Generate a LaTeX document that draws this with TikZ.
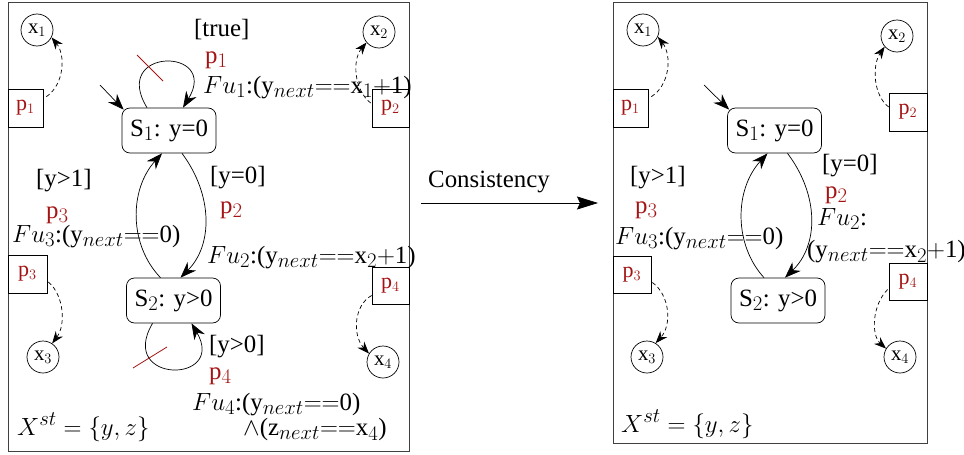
\documentclass[tikz,border=0pt]{standalone}
\usepackage{fontspec}
\setmainfont{Liberation Serif}
\usetikzlibrary{arrows.meta}
\definecolor{pred}{RGB}{165,20,20}
\newcommand{\myeq}{${=}{=}$}
\newcommand{\myplus}{${+}$}
\begin{document}
\begin{tikzpicture}[x=1pt,y=-1pt,font=\Huge,
  stateb/.style={draw,rounded corners=8pt,minimum width=94pt,minimum height=45pt,inner sep=0pt,line width=0.7pt},
  varc/.style={draw,circle,minimum size=32pt,inner sep=0pt,font=\huge,line width=0.7pt},
  pbox/.style={draw,minimum width=37pt,minimum height=38pt,inner sep=0pt,text=pred,font=\fontsize{22}{24}\selectfont,line width=0.7pt},
  lbl/.style={anchor=base west,inner sep=0pt},
  rlbl/.style={anchor=base west,inner sep=0pt,text=pred},
  edgea/.style={-{Stealth[length=16pt,width=12pt]},line width=0.7pt},
  dasharr/.style={dash pattern=on 4pt off 3pt,-{Stealth[length=12pt,width=9pt]},line width=0.7pt},
  frame/.style={draw=black!75,line width=0.8pt},
  slash/.style={draw=pred,line width=0.8pt}]
\useasboundingbox (0,0) rectangle (964,455);

% ---------- left frame ----------
\draw[frame] (8,2) rectangle (409,451);

\node[stateb] (S1) at (169,130.5) {S$_1$: y=0};
\node[stateb] (S2) at (173.5,300.5) {S$_2$: y>0};

\node[varc] (x1) at (37,30) {x$_1$};
\node[varc] (x2) at (379,32) {x$_2$};
\node[varc] (x3) at (43,357) {x$_3$};
\node[varc] (x4) at (383,362) {x$_4$};

\node[pbox,minimum width=35pt] (bp1) at (25.5,108) {p$_1$};
\node[pbox] (bp2) at (390.5,108) {p$_2$};
\node[pbox,minimum width=39pt] (bp3) at (27.5,274) {p$_3$};
\node[pbox,minimum height=37pt] (bp4) at (390.5,285.5) {p$_4$};

\coordinate (i1) at (100,85);
\draw[edgea] (i1) -- ([shift={(2,2)}]S1.north west);

% self loops
\draw[edgea] ([shift={(-22,0)}]S1.north) .. controls (110,47) and (220,47) .. ([shift={(14,0)}]S1.north);
\draw[slash] (137,55) -- (163,81);
\draw[edgea] ([shift={(-21,0)}]S2.south) .. controls (117,384) and (227,384) .. ([shift={(18,0)}]S2.south);
\draw[slash] (133,368) -- (167,347);

% transitions
\draw[edgea] ([shift={(13,0)}]S1.south) .. controls (213,195) and (213,245) .. ([shift={(7,0)}]S2.north);
\draw[edgea] ([shift={(-13,0)}]S2.north) .. controls (129,245) and (129,190) .. ([shift={(-7,0)}]S1.south);

% dashed
\draw[dasharr] ([shift={(3,8)}]bp1.north east) .. controls (64,85) and (66,55) .. (x1.-27);
\draw[dasharr] ([shift={(-1,-5)}]bp2.west) .. controls (354,90) and (352,60) .. (x2.-140);
\draw[dasharr] ([shift={(1,8)}]bp3.east) .. controls (64,295) and (66,325) .. (x3.56);
\draw[dasharr] ([shift={(0,10)}]bp4.west) .. controls (354,305) and (352,335) .. (x4.149);

% labels
\node[lbl] (ltrue) at (194,36) {[true]};
\node[rlbl] (lp1) at (205,63) {p$_1$};
\node[lbl] (lfu1) at (203,93) {$Fu_1$:(y$_{next}$\myeq x$_1$\myplus 1)};
\node[lbl] (ly0) at (210,183.5) {[y=0]};
\node[rlbl] (lp2) at (220,213) {p$_2$};
\node[lbl] (lfu2) at (207,263) {$Fu_2$:(y$_{next}$\myeq x$_2$\myplus 1)};
\node[lbl] (ly1) at (36,186.5) {[y>1]};
\node[rlbl] (lp3) at (46,218) {p$_3$};
\node[lbl] (lfu3) at (12,242) {$Fu_3$:(y$_{next}$\myeq 0)};
\node[lbl] (lyg0) at (209,352.5) {[y>0]};
\node[rlbl] (lp4) at (209,379) {p$_4$};
\node[lbl] (lfu4) at (192,410) {$Fu_4$:(y$_{next}$\myeq 0)};
\node[lbl] (lfu4b) at (243,435.5) {$\wedge$(z$_{next}$\myeq x$_4$)};
\node[lbl] (lxst) at (17,435) {$X^{st}=\{y,z\}$};

% ---------- consistency arrow ----------
\node[lbl] (cons) at (428,187) {Consistency};
\coordinate (ca) at (421,203);
\coordinate (cb) at (598,203);
\draw[-{Stealth[length=21pt,width=13pt,inset=3pt]},line width=0.7pt] (ca) -- (cb);

% ---------- right frame ----------
\draw[frame] (613,2) rectangle (927,443);

\node[stateb] (S1r) at (774.5,130.5) {S$_1$: y=0};
\node[stateb] (S2r) at (778,300.5) {S$_2$: y>0};

\node[varc] (x1r) at (643,30) {x$_1$};
\node[varc] (x2r) at (897,36) {x$_2$};
\node[varc] (x3r) at (647,357) {x$_3$};
\node[varc] (x4r) at (900,357) {x$_4$};

\node[pbox,minimum width=35pt] (bp1r) at (630.5,108) {p$_1$};
\node[pbox,minimum width=38pt] (bp2r) at (908,112) {p$_2$};
\node[pbox,minimum width=38pt,minimum height=37pt] (bp3r) at (632,274.5) {p$_3$};
\node[pbox,minimum width=38pt,minimum height=37pt] (bp4r) at (908,281.5) {p$_4$};

\coordinate (i1r) at (704,85);
\draw[edgea] (i1r) -- ([shift={(2,2)}]S1r.north west);

\draw[edgea] ([shift={(13,0)}]S1r.south) .. controls (819,195) and (819,245) .. ([shift={(7,0)}]S2r.north);
\draw[edgea] ([shift={(-14,0)}]S2r.north) .. controls (734,245) and (734,190) .. ([shift={(-7,0)}]S1r.south);

\draw[dasharr] ([shift={(3,8)}]bp1r.north east) .. controls (670,85) and (672,55) .. (x1r.-25);
\draw[dasharr] ([shift={(0,-5)}]bp2r.west) .. controls (873,95) and (872,65) .. (x2r.-139);
\draw[dasharr] ([shift={(1,8)}]bp3r.east) .. controls (670,295) and (672,325) .. (x3r.58);
\draw[dasharr] ([shift={(-1,8)}]bp4r.west) .. controls (872,305) and (871,335) .. (x4r.149);

\node[lbl] (ry0) at (822,171.5) {[y=0]};
\node[rlbl] (rp2) at (825,198) {p$_2$};
\node[lbl] (rfu2) at (817,225) {$Fu_2$:};
\node[lbl] (rfu2b) at (807,257.5) {(y$_{next}$\myeq x$_2$\myplus 1)};
\node[lbl] (ry1) at (630,183.5) {[y>1]};
\node[rlbl] (rp3) at (635,213) {p$_3$};
\node[lbl] (rfu3) at (615,244) {$Fu_3$:(y$_{next}$\myeq 0)};
\node[lbl] (rxst) at (621,432) {$X^{st}=\{y,z\}$};
\end{tikzpicture}
\end{document}
